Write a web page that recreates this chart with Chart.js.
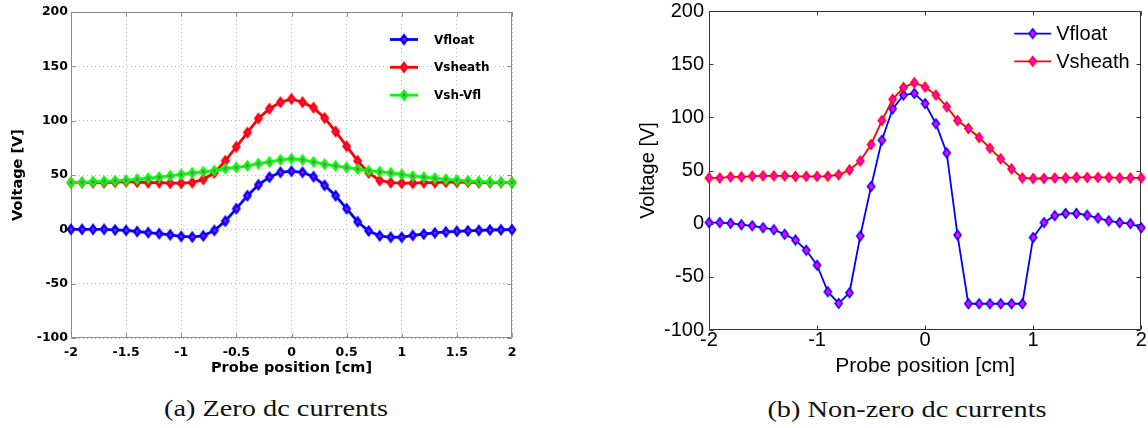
<!DOCTYPE html>
<html>
<head>
<meta charset="utf-8">
<script src="https://cdn.jsdelivr.net/npm/chart.js@4.4.1/dist/chart.umd.min.js"></script>
<style>
  html, body { margin: 0; padding: 0; background: #fff; }
  #wrap { position: relative; width: 1148px; height: 428px; overflow: hidden; background: #fff; }
  canvas { position: absolute; top: 0; }
  #cA { left: 0; }
  #cB { left: 574px; }
  .cap { position: absolute; font-family: "Liberation Serif", serif; font-size: 24px; line-height: 1; color: #111;
         white-space: nowrap; transform: translate(-50%, -50%) scaleX(1.18); }
</style>
</head>
<body>
<div id="wrap">
  <canvas id="cA" width="574" height="390"></canvas>
  <canvas id="cB" width="574" height="390"></canvas>
  <div class="cap" style="left:276px; top:408px;">(a) Zero dc currents</div>
  <div class="cap" style="left:907px; top:409px;">(b) Non-zero dc currents</div>
</div>
<script>
// ---- data ----
const positions = [-2,-1.9,-1.8,-1.7,-1.6,-1.5,-1.4,-1.3,-1.2,-1.1,-1,-0.9,-0.8,-0.7,-0.6,-0.5,-0.4,-0.3,-0.2,-0.1,0,0.1,0.2,0.3,0.4,0.5,0.6,0.7,0.8,0.9,1,1.1,1.2,1.3,1.4,1.5,1.6,1.7,1.8,1.9,2];

// (a) Zero dc currents
const vfloatA = [0,0,0,0,-0.5,-1,-2,-3,-4,-5,-6.5,-7,-6,-1,7.5,19,31,41,48,52.5,53.5,52.5,48.5,40.5,31,19,7,-1.5,-6,-7.3,-7.3,-5.6,-4.3,-3.3,-2.4,-1.8,-1.4,-1,-0.6,-0.4,-0.3];
const vsheathA = [43,43,43,43,43.5,44,43.5,43,43,42.5,42.5,43,46,52,63,76,89,102,111,117,120,117,112,102.5,90,76.5,63,52,45,43,42.5,42.5,43,43,43.5,43.5,43.5,43,43,43,43];
const vdiffA = [43,43.2,43.8,44.2,44.6,45.2,46,47,48,49.2,50.5,52,53,54,56,57,58.5,60.5,62,64,65,64,62,60,58.5,57,55.5,54,53,52,50.5,49,48,47,46,45.3,44.6,44,43.6,43.3,43];

// (b) Non-zero dc currents
const vfloatB = [1,1,0.3,-1,-2,-3.8,-5.7,-10,-15.4,-25,-39,-64,-75,-65,-11.6,35,78.5,108,121,122.5,113,94,66.5,-10.7,-75.3,-75.3,-75.3,-75.3,-75.3,-75.3,-13,1,7.5,9.6,9.6,8,5.3,2.7,1,0,-3.8];
const vsheathB = [43,43,44,44,44.7,45,45,45,44.5,44.5,44.5,44.7,46,50.5,59,74.5,97,117,128,132.5,128.5,121,110,97,89.5,81,71,61,51.5,43,42.5,42.5,43,43,43.5,43.5,43.5,43.5,43,43,43];

const namesA = ['Vfloat', 'Vsheath', 'Vsh-Vfl'];
const namesB = ['Vfloat', 'Vsheath'];
const xTicksA = [-2,-1.5,-1,-0.5,0,0.5,1,1.5,2];
const xTicksB = [-2,-1,0,1,2];
const yTicks = [-100,-50,0,50,100,150,200];

const BLUE = '#0000ff', RED = '#ff0000', GREEN = '#00ff00', MAG = '#ff00ff';

// ---- helpers ----
function diamond(stroke, fill, w, h, lw) {
  const c = document.createElement('canvas');
  const W = Math.ceil(2 * w + lw * 2 + 2), H = Math.ceil(2 * h + lw * 2 + 2);
  c.width = W; c.height = H;
  const g = c.getContext('2d');
  g.translate(W / 2, H / 2);
  g.beginPath();
  g.moveTo(0, -h); g.lineTo(w, 0); g.lineTo(0, h); g.lineTo(-w, 0); g.closePath();
  g.fillStyle = fill; g.fill();
  g.lineWidth = lw; g.strokeStyle = stroke; g.lineJoin = 'miter'; g.stroke();
  return c;
}
function pts(vals) { return positions.map((p, i) => ({ x: p, y: vals[i] })); }
const plainLabel = v => String(v);

function framePlugin(color, tickLen) {
  return {
    id: 'frame',
    beforeDatasetsDraw(chart) {
      const { ctx, chartArea: a, scales: { x, y } } = chart;
      ctx.save();
      ctx.strokeStyle = color; ctx.lineWidth = 1;
      const L = Math.round(a.left) + 0.5, R = Math.round(a.right) - 0.5;
      const T = Math.round(a.top) + 0.5, B = Math.round(a.bottom) - 0.5;
      ctx.beginPath();
      ctx.rect(L, T, R - L, B - T);
      x.ticks.forEach(t => {
        const px = Math.round(x.getPixelForValue(t.value)) + 0.5;
        ctx.moveTo(px, B); ctx.lineTo(px, B - tickLen);
        ctx.moveTo(px, T); ctx.lineTo(px, T + tickLen);
      });
      y.ticks.forEach(t => {
        const py = Math.round(y.getPixelForValue(t.value)) + 0.5;
        ctx.moveTo(L, py); ctx.lineTo(L + tickLen, py);
        ctx.moveTo(R, py); ctx.lineTo(R - tickLen, py);
      });
      ctx.stroke();
      ctx.restore();
    }
  };
}

function legendPlugin(cfg) {
  return {
    id: 'mlegend',
    afterDatasetsDraw(chart) {
      const { ctx, chartArea: a } = chart;
      ctx.save();
      chart.data.datasets.forEach((ds, i) => {
        const yy = a.top + cfg.y0 + i * cfg.dy;
        const x1 = a.right + cfg.lineStart, x2 = a.right + cfg.lineEnd;
        ctx.strokeStyle = ds.borderColor; ctx.lineWidth = ds.borderWidth;
        ctx.beginPath(); ctx.moveTo(x1, yy); ctx.lineTo(x2, yy); ctx.stroke();
        const img = ds.pointStyle;
        ctx.drawImage(img, (x1 + x2) / 2 - img.width / 2, yy - img.height / 2);
        ctx.fillStyle = '#000'; ctx.font = cfg.font;
        ctx.textAlign = 'left'; ctx.textBaseline = 'middle';
        ctx.fillText(ds.label, a.right + cfg.textX, yy + 1);
      });
      ctx.restore();
    }
  };
}

function fixAxis(size, horizontal) {
  return s => {
    if (horizontal) s.height = size; else s.width = size;
    s.paddingLeft = 0; s.paddingRight = 0; s.paddingTop = 0; s.paddingBottom = 0;
  };
}

// ---- chart (a) ----
const boldTick = { family: 'DejaVu Sans', weight: 'bold', size: 12.5 };
const boldTitle = { family: 'DejaVu Sans', weight: 'bold', size: 14.5 };
const colorsA = [BLUE, RED, GREEN];
const valsA = [vfloatA, vsheathA, vdiffA];

new Chart(document.getElementById('cA'), {
  type: 'line',
  data: {
    datasets: namesA.map((n, i) => ({
      label: n,
      data: pts(valsA[i]),
      borderColor: colorsA[i],
      borderWidth: 2.8,
      pointStyle: diamond(colorsA[i], MAG, 3, 4, 2.6),
      pointRadius: 5,
      tension: 0,
      clip: false,
      order: 3 - i
    }))
  },
  options: {
    responsive: false, animation: false, events: [],
    layout: { padding: { left: 0, right: 62, top: 12, bottom: 0 } },
    plugins: { legend: { display: false }, tooltip: { enabled: false } },
    scales: {
      x: {
        type: 'linear', min: -2, max: 2,
        afterBuildTicks: s => { s.ticks = xTicksA.map(v => ({ value: v })); },
        ticks: { autoSkip: false, maxRotation: 0, padding: 7, color: '#000', font: boldTick, callback: plainLabel },
        grid: { color: '#bdbdbd', lineWidth: 1, drawTicks: false },
        border: { display: false, dash: [1, 3] },
        title: { display: true, text: 'Probe position [cm]', color: '#000', font: boldTitle, padding: { top: 0, bottom: 13 } },
        afterFit: fixAxis(52, true)
      },
      y: {
        type: 'linear', min: -100, max: 200,
        afterBuildTicks: s => { s.ticks = yTicks.map(v => ({ value: v })); },
        ticks: { autoSkip: false, padding: 3, color: '#000', font: boldTick, callback: plainLabel },
        grid: { color: '#bdbdbd', lineWidth: 1, drawTicks: false },
        border: { display: false, dash: [1, 3] },
        title: { display: true, text: 'Voltage [V]', color: '#000', font: boldTitle, padding: { top: 10, bottom: 0 } },
        afterFit: fixAxis(71, false)
      }
    }
  },
  plugins: [
    framePlugin('#8a8a8a', 4),
    legendPlugin({ y0: 27.5, dy: 27.8, lineStart: -122, lineEnd: -94, textX: -78, font: 'bold 12px "DejaVu Sans"' })
  ]
});

// ---- chart (b) ----
const regTick = { family: 'Liberation Sans', size: 20, lineHeight: 0.6 };
const regTitle = { family: 'Liberation Sans', size: 21 };
const colorsB = [BLUE, RED];
const valsB = [vfloatB, vsheathB];

new Chart(document.getElementById('cB'), {
  type: 'line',
  data: {
    datasets: namesB.map((n, i) => ({
      label: n,
      data: pts(valsB[i]),
      borderColor: colorsB[i],
      borderWidth: 1.8,
      pointStyle: diamond(colorsB[i], MAG, 3.6, 4.8, 1.5),
      pointRadius: 5,
      tension: 0,
      clip: false,
      order: 2 - i
    }))
  },
  options: {
    responsive: false, animation: false, events: [],
    layout: { padding: { left: 0, right: 5, top: 11, bottom: 0 } },
    plugins: { legend: { display: false }, tooltip: { enabled: false } },
    scales: {
      x: {
        type: 'linear', min: -2, max: 2,
        afterBuildTicks: s => { s.ticks = xTicksB.map(v => ({ value: v })); },
        ticks: { autoSkip: false, maxRotation: 0, padding: 4, color: '#000', font: regTick, callback: plainLabel },
        grid: { display: false, drawTicks: false },
        border: { display: false },
        title: { display: true, text: 'Probe position [cm]', color: '#000', font: regTitle, padding: { top: 0, bottom: 11 } },
        afterFit: fixAxis(60, true)
      },
      y: {
        type: 'linear', min: -100, max: 200,
        afterBuildTicks: s => { s.ticks = yTicks.map(v => ({ value: v })); },
        ticks: { autoSkip: false, padding: 5, color: '#000', font: { family: 'Liberation Sans', size: 20 }, callback: plainLabel },
        grid: { display: false, drawTicks: false },
        border: { display: false },
        title: { display: true, text: 'Voltage [V]', color: '#000', font: { family: 'Liberation Sans', size: 20 }, padding: { top: 62, bottom: 0 } },
        afterFit: fixAxis(135, false)
      }
    }
  },
  plugins: [
    framePlugin('#333333', 4),
    legendPlugin({ y0: 22.6, dy: 27.7, lineStart: -127, lineEnd: -90, textX: -85, font: '20px "Liberation Sans"' })
  ]
});
</script>
</body>
</html>
